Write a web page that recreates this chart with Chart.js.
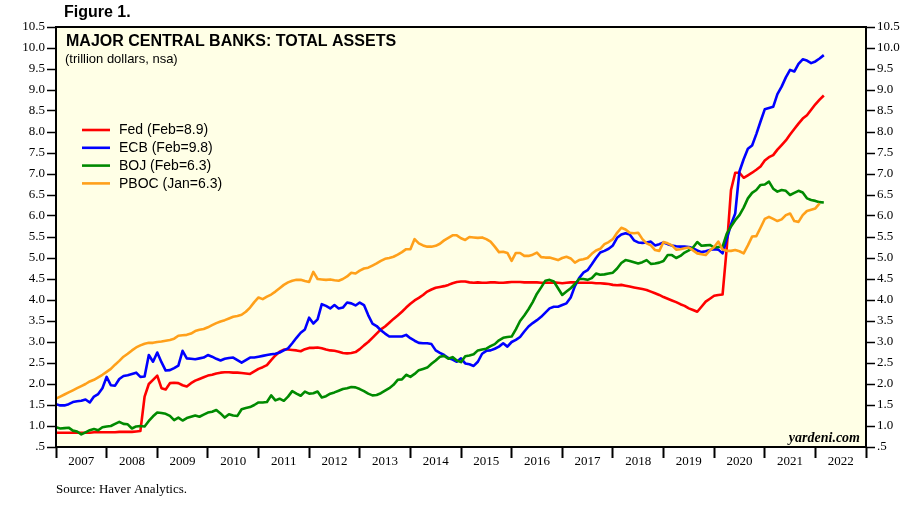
<!DOCTYPE html>
<html>
<head>
<meta charset="utf-8">
<title>Major Central Banks: Total Assets</title>
<script src="https://cdn.jsdelivr.net/npm/chart.js@4.4.1/dist/chart.umd.min.js"></script>
<style>
  html, body { margin: 0; padding: 0; background: #fff; }
  #wrap { position: relative; width: 918px; height: 513px; }
</style>
</head>
<body>
<div id="wrap"><canvas id="chart"></canvas></div>
<script>
// Month-end balance sheets, trillion US$ (nsa).
// First value = end of Dec 2006, then one value per month up to Feb 2022.
const firstX = 2007;

const fed = [
  0.84,
  0.84, 0.84, 0.84, 0.84, 0.84, 0.84, 0.84, 0.84, 0.85, 0.85, 0.85, 0.85,
  0.85, 0.85, 0.86, 0.86, 0.86, 0.86, 0.87, 0.88, 1.70, 2.00, 2.10, 2.20,
  1.90, 1.87, 2.02, 2.03, 2.02, 1.97, 1.94, 2.02, 2.08, 2.12, 2.16, 2.20,
  2.22, 2.25, 2.27, 2.28, 2.28, 2.27, 2.27, 2.26, 2.25, 2.24, 2.30, 2.36,
  2.40, 2.45, 2.57, 2.68, 2.77, 2.82, 2.82, 2.81, 2.80, 2.78, 2.83, 2.86,
  2.86, 2.87, 2.85, 2.82, 2.80, 2.79, 2.77, 2.74, 2.73, 2.74, 2.76, 2.83,
  2.92, 3.00, 3.10, 3.20, 3.30, 3.37, 3.46, 3.55, 3.63, 3.72, 3.82, 3.91,
  3.99, 4.05, 4.12, 4.20, 4.25, 4.29, 4.31, 4.33, 4.36, 4.40, 4.43, 4.44,
  4.44, 4.42, 4.41, 4.42, 4.41, 4.41, 4.42, 4.42, 4.41, 4.41, 4.42, 4.43,
  4.43, 4.43, 4.42, 4.42, 4.42, 4.42, 4.41, 4.41, 4.41, 4.42, 4.41, 4.40,
  4.41, 4.42, 4.42, 4.41, 4.41, 4.41, 4.41, 4.40, 4.40, 4.39, 4.38, 4.36,
  4.35, 4.36, 4.34, 4.32, 4.30, 4.28, 4.26, 4.24, 4.20, 4.16, 4.12, 4.07,
  4.03, 3.99, 3.95, 3.90, 3.86, 3.80, 3.76, 3.72, 3.84, 3.96, 4.03, 4.10,
  4.12, 4.13, 5.25, 6.62, 7.03, 7.03, 6.91, 6.97, 7.03, 7.10, 7.18, 7.32,
  7.40, 7.45, 7.58, 7.69, 7.80, 7.94, 8.07, 8.20, 8.32, 8.40, 8.53, 8.66,
  8.77, 8.87
];

const ecb = [
  1.52,
  1.49, 1.49, 1.52, 1.57, 1.59, 1.60, 1.63, 1.56, 1.70, 1.76, 1.90, 2.17,
  1.97, 1.96, 2.12, 2.19, 2.21, 2.24, 2.27, 2.17, 2.18, 2.69, 2.53, 2.75,
  2.52, 2.32, 2.33, 2.38, 2.44, 2.79, 2.61, 2.60, 2.59, 2.61, 2.63, 2.69,
  2.65, 2.60, 2.56, 2.60, 2.62, 2.63, 2.57, 2.51, 2.57, 2.63, 2.63, 2.65,
  2.67, 2.69, 2.71, 2.72, 2.75, 2.80, 2.85, 2.97, 3.10, 3.22, 3.30, 3.58,
  3.44, 3.54, 3.90, 3.86, 3.80, 3.88, 3.80, 3.82, 3.94, 3.92, 3.87, 3.94,
  3.88, 3.64, 3.44, 3.38, 3.28, 3.20, 3.13, 3.13, 3.13, 3.13, 3.17, 3.09,
  3.03, 2.98, 2.97, 2.97, 2.95, 2.80, 2.74, 2.69, 2.62, 2.58, 2.53, 2.61,
  2.49, 2.47, 2.43, 2.53, 2.72, 2.79, 2.80, 2.84, 2.89, 2.97, 2.89, 3.00,
  3.05, 3.12, 3.25, 3.37, 3.45, 3.52, 3.60, 3.70, 3.80, 3.84, 3.84, 3.88,
  3.92, 4.06, 4.33, 4.52, 4.65, 4.71, 4.85, 5.00, 5.13, 5.17, 5.22, 5.30,
  5.48, 5.56, 5.59, 5.56, 5.42, 5.37, 5.36, 5.37, 5.39, 5.30, 5.33, 5.37,
  5.33, 5.30, 5.28, 5.27, 5.27, 5.26, 5.23, 5.18, 5.14, 5.16, 5.19, 5.21,
  5.20, 5.11, 5.45, 5.80, 6.06, 7.06, 7.35, 7.60, 7.68, 7.95, 8.25, 8.54,
  8.57, 8.60, 8.90, 9.08, 9.30, 9.48, 9.44, 9.62, 9.73, 9.70, 9.64, 9.68,
  9.75, 9.83
];

const boj = [
  0.97,
  0.94, 0.95, 0.96, 0.89, 0.87, 0.80, 0.85, 0.90, 0.93, 0.90, 0.97, 0.99,
  1.00, 1.05, 1.10, 1.05, 1.04, 0.94, 0.99, 1.00, 0.99, 1.12, 1.23, 1.32,
  1.31, 1.29, 1.24, 1.14, 1.20, 1.13, 1.19, 1.22, 1.25, 1.22, 1.27, 1.32,
  1.34, 1.38, 1.30, 1.20, 1.28, 1.25, 1.24, 1.40, 1.43, 1.45, 1.50, 1.56,
  1.56, 1.57, 1.73, 1.61, 1.65, 1.60, 1.70, 1.83, 1.77, 1.72, 1.82, 1.77,
  1.78, 1.82, 1.68, 1.71, 1.77, 1.80, 1.84, 1.88, 1.90, 1.93, 1.92, 1.88,
  1.83, 1.77, 1.73, 1.74, 1.78, 1.84, 1.90, 1.98, 2.10, 2.11, 2.22, 2.17,
  2.24, 2.33, 2.36, 2.39, 2.48, 2.56, 2.65, 2.67, 2.60, 2.64, 2.56, 2.52,
  2.66, 2.68, 2.71, 2.80, 2.82, 2.84, 2.90, 2.95, 3.04, 3.10, 3.12, 3.13,
  3.30, 3.50, 3.63, 3.78, 3.95, 4.15, 4.30, 4.46, 4.48, 4.44, 4.28, 4.12,
  4.20, 4.28, 4.38, 4.50, 4.50, 4.48, 4.52, 4.63, 4.60, 4.61, 4.63, 4.65,
  4.75, 4.88, 4.95, 4.93, 4.90, 4.87, 4.90, 4.95, 4.86, 4.87, 4.89, 4.93,
  5.07, 5.07, 5.00, 5.05, 5.13, 5.18, 5.25, 5.38, 5.29, 5.30, 5.31, 5.25,
  5.26, 5.27, 5.58, 5.75, 5.90, 6.02, 6.20, 6.42, 6.55, 6.62, 6.74, 6.75,
  6.82, 6.65, 6.58, 6.62, 6.60, 6.50, 6.55, 6.60, 6.56, 6.42, 6.38, 6.36,
  6.33, 6.32
];

// PBOC stops at Jan 2022
const pboc = [
  1.65,
  1.70, 1.75, 1.80, 1.85, 1.90, 1.95, 2.00, 2.06, 2.10, 2.16, 2.22, 2.29,
  2.36, 2.46, 2.55, 2.65, 2.72, 2.80, 2.87, 2.92, 2.96, 2.98, 2.98, 3.00,
  3.01, 3.03, 3.05, 3.08, 3.15, 3.16, 3.17, 3.20, 3.26, 3.29, 3.31, 3.35,
  3.40, 3.45, 3.49, 3.52, 3.56, 3.60, 3.62, 3.65, 3.72, 3.82, 3.95, 4.06,
  4.02, 4.08, 4.13, 4.20, 4.28, 4.36, 4.42, 4.46, 4.48, 4.48, 4.45, 4.43,
  4.67, 4.50, 4.49, 4.48, 4.49, 4.47, 4.46, 4.50, 4.56, 4.65, 4.63, 4.70,
  4.75, 4.77, 4.82, 4.87, 4.93, 4.98, 5.00, 5.03, 5.08, 5.14, 5.21, 5.21,
  5.45, 5.35, 5.30, 5.27, 5.27, 5.29, 5.34, 5.42, 5.48, 5.54, 5.54, 5.47,
  5.43, 5.50, 5.49, 5.48, 5.49, 5.45, 5.39, 5.27, 5.14, 5.15, 5.12, 4.93,
  5.12, 5.12, 5.05, 5.05, 5.08, 5.13, 5.02, 5.01, 5.01, 4.98, 4.95, 5.00,
  5.03, 4.99, 4.89, 4.95, 4.97, 5.00, 5.10, 5.18, 5.22, 5.33, 5.38, 5.45,
  5.60, 5.72, 5.68, 5.60, 5.59, 5.60, 5.45, 5.35, 5.30, 5.19, 5.17, 5.38,
  5.35, 5.30, 5.20, 5.21, 5.23, 5.25, 5.18, 5.11, 5.09, 5.07, 5.18, 5.26,
  5.39, 5.20, 5.17, 5.17, 5.19, 5.16, 5.11, 5.30, 5.51, 5.52, 5.72, 5.93,
  5.98, 5.93, 5.88, 5.92, 6.02, 6.06, 5.88, 5.86, 6.02, 6.12, 6.15, 6.18,
  6.30
];

const seriesLabels = ['Fed (Feb=8.9)', 'ECB (Feb=9.8)', 'BOJ (Feb=6.3)', 'PBOC (Jan=6.3)'];
const seriesColors = ['#ff0000', '#0000ff', '#008a00', '#ffa01a'];
const years = [2007, 2008, 2009, 2010, 2011, 2012, 2013, 2014, 2015, 2016, 2017, 2018, 2019, 2020, 2021, 2022];

const SANS = '"Liberation Sans", Arial, sans-serif';
const SERIF = '"Liberation Serif", "Times New Roman", serif';

// month index -> fractional year on the linear x axis
const toPoints = arr => arr.map((v, i) => ({ x: firstX + i / 12, y: v }));

const datasets = [fed, ecb, boj, pboc].map((arr, i) => ({
    label: seriesLabels[i],
    data: toPoints(arr),
    borderColor: seriesColors[i],
    backgroundColor: seriesColors[i],
    borderWidth: 2.6,
    borderJoinStyle: 'round',
    pointRadius: 0,
    tension: 0,
    order: 4 - i   // later series drawn on top
}));

// Background, frame and all the text around the plot
const decorPlugin = {
    id: 'decor',
    beforeDatasetsDraw(chart) {
        const { ctx, chartArea: a } = chart;
        ctx.save();
        ctx.fillStyle = '#ffffe6';
        ctx.fillRect(a.left, a.top, a.right - a.left, a.bottom - a.top);
        ctx.restore();
    },
    afterDatasetsDraw(chart) {
        const { ctx, chartArea: a } = chart;
        ctx.save();
        ctx.strokeStyle = '#000';
        ctx.lineWidth = 2;
        ctx.strokeRect(a.left, a.top, a.right - a.left, a.bottom - a.top);

        ctx.fillStyle = '#000';
        ctx.textBaseline = 'alphabetic';
        ctx.font = 'bold 16px ' + SANS;
        ctx.fillText('Figure 1.', 64, 17);
        ctx.fillText('MAJOR CENTRAL BANKS: TOTAL ASSETS', 66, 46);
        ctx.font = '13px ' + SANS;
        ctx.fillText('(trillion dollars, nsa)', 65, 63);

        // legend
        ctx.font = '14px ' + SANS;
        ctx.textBaseline = 'middle';
        chart.data.datasets.forEach((ds, i) => {
            const y = 130 + i * 17.8;
            ctx.strokeStyle = ds.borderColor;
            ctx.lineWidth = 2.6;
            ctx.beginPath();
            ctx.moveTo(82, y);
            ctx.lineTo(110, y);
            ctx.stroke();
            ctx.fillStyle = '#000';
            ctx.fillText(ds.label, 119, y + 0.5);
        });

        ctx.textBaseline = 'alphabetic';
        ctx.font = 'italic bold 14px ' + SERIF;
        ctx.textAlign = 'right';
        ctx.fillText('yardeni.com', 860, 442);
        ctx.textAlign = 'left';
        ctx.font = '13px ' + SERIF;
        ctx.fillText('Source: Haver Analytics.', 56, 493);
        ctx.restore();
    }
};

const yAxis = (position, width) => ({
    type: 'linear',
    position,
    min: 0.5,
    max: 10.5,
    border: { display: false },
    grid: { drawOnChartArea: false, drawTicks: true, tickLength: 9, tickWidth: 1.5, tickColor: '#000' },
    ticks: {
        stepSize: 0.5,
        color: '#000',
        padding: 2,
        font: { family: SERIF, size: 13 },
        callback: v => (v === 0.5 ? '.5' : v.toFixed(1))
    },
    afterFit: s => { s.width = width; }
});

new Chart(document.getElementById('chart'), {
    type: 'line',
    data: { datasets },
    options: {
        responsive: true,
        maintainAspectRatio: false,
        animation: false,
        layout: { padding: { top: 27, left: 0, right: 0, bottom: 0 } },
        plugins: { legend: { display: false }, tooltip: { enabled: false } },
        scales: {
            x: {
                type: 'linear',
                min: years[0],
                max: years[years.length - 1] + 1,
                border: { display: false },
                grid: {
                    drawOnChartArea: false,
                    drawTicks: true,
                    tickLength: 11,
                    tickWidth: 2,
                    // marks only at year boundaries, labels sit at mid-year
                    tickColor: c => (Number.isInteger(c.tick.value) ? '#000' : 'rgba(0,0,0,0)')
                },
                ticks: {
                    stepSize: 0.5,
                    autoSkip: false,
                    maxRotation: 0,
                    padding: -4,
                    color: '#000',
                    font: { family: SERIF, size: 13 },
                    callback: v => (Number.isInteger(v) ? '' : String(Math.floor(v)))
                },
                afterFit: s => { s.height = 66; }
            },
            y: yAxis('left', 56),
            y2: yAxis('right', 52)
        }
    },
    plugins: [decorPlugin]
});
</script>
</body>
</html>
